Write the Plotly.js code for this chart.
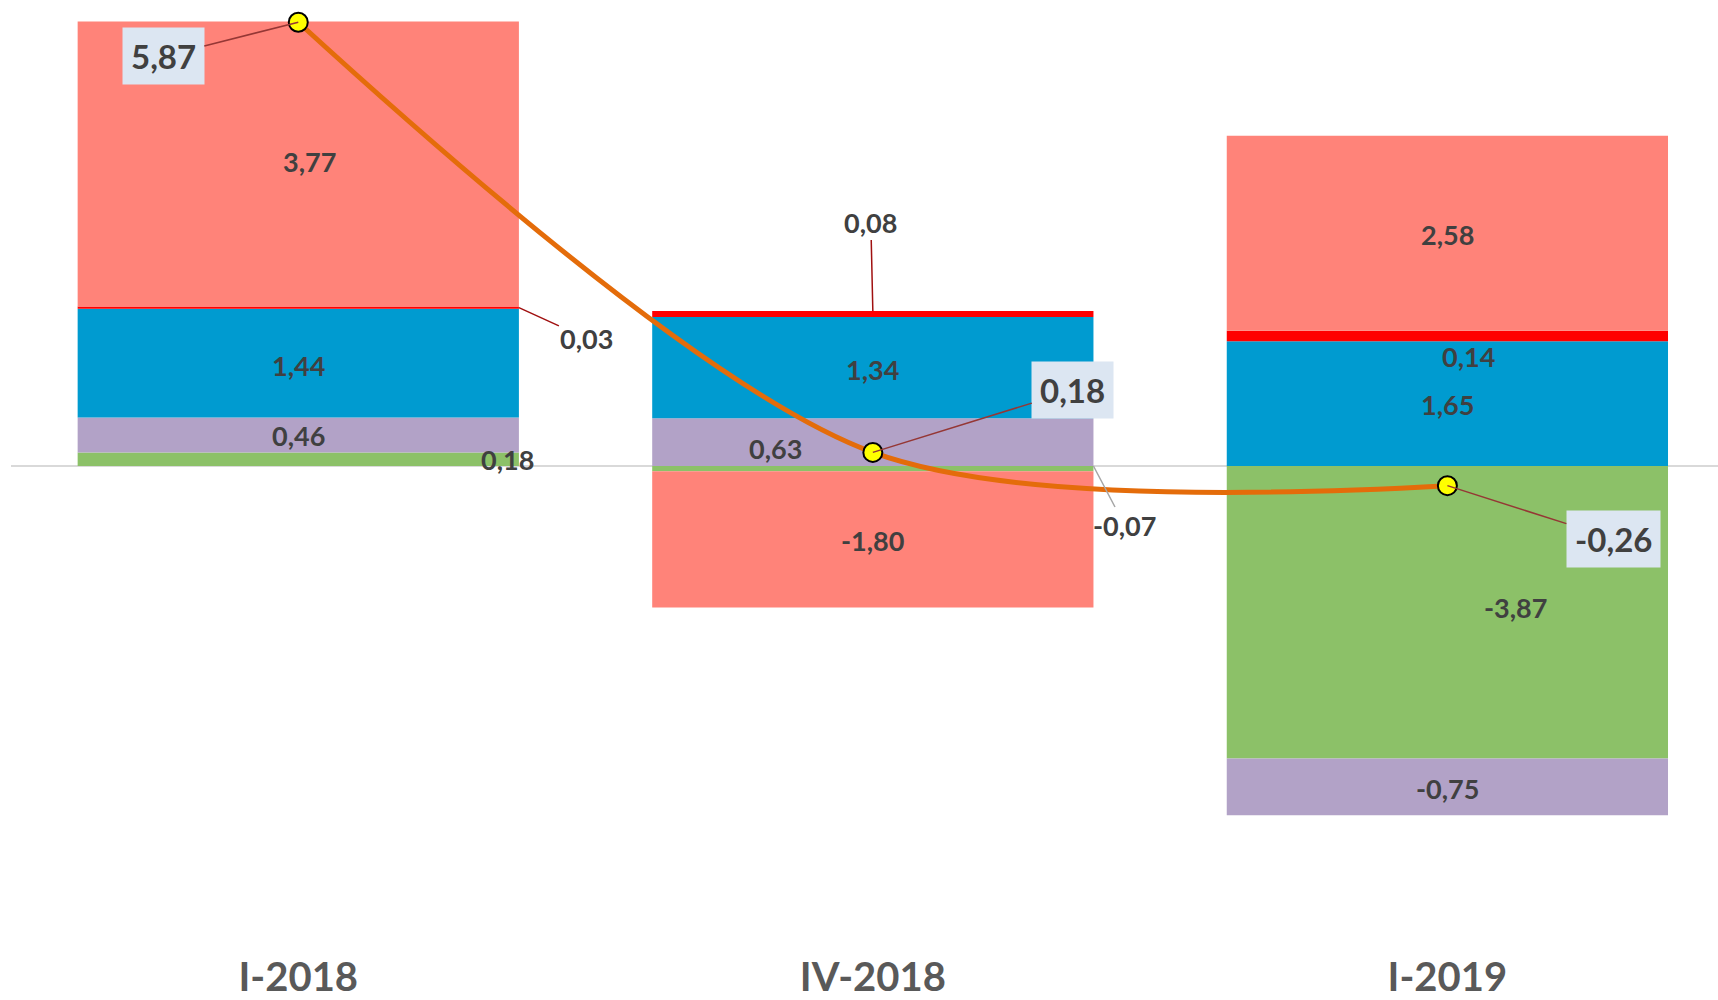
<!DOCTYPE html>
<html>
<head>
<meta charset="utf-8">
<script src="https://cdn.plot.ly/plotly-3.0.1.min.js"></script>
<style>html,body{margin:0;padding:0;background:#fff;}#chart{width:1718px;height:1000px;}</style>
</head>
<body>
<div id="chart"></div>
<script>
// ---- data ----
const categories = ['I-2018', 'IV-2018', 'I-2019'];
const greenVals  = [0.18, -0.07, -3.87];
const purpleVals = [0.46, 0.63, -0.75];
const blueVals   = [1.44, 1.34, 1.65];
const redVals    = [0.03, 0.08, 0.14];
const salmonVals = [3.77, -1.80, 2.58];
const totalVals  = [5.87, 0.18, -0.26];

// ---- styles ----
const seriesList = [
  {vals: greenVals,  color: '#8CC168'},
  {vals: purpleVals, color: '#B2A2C7'},
  {vals: blueVals,   color: '#009BD0'},
  {vals: redVals,    color: '#FF0000'},
  {vals: salmonVals, color: '#FF8379'}
];
const HALF = 0.384; // half bar width in category units
const labelFont = {family: 'Lato, "Open Sans", sans-serif', size: 27, color: '#404040', weight: 700};
const boxFont = {family: 'Lato, "Open Sans", sans-serif', size: 33, color: '#404040', weight: 700};
const fmt = v => v.toFixed(2).replace('.', ',');

// label placement config: [seriesIndex][categoryIndex]
const labelCfg = [
  [{m:'in', dx:209, dy:0}, {m:'lead', at:'right', ax:31, ay:59, c:'#A6A6A6'}, {m:'in', dx:68, dy:5}],
  [{m:'in', dx:0, dy:0}, {m:'in', dx:-97, dy:-6}, {m:'in', dx:0, dy:-2}],
  [{m:'in', dx:0, dy:-2}, {m:'in', dx:0, dy:-2}, {m:'in', dx:0, dy:-1}],
  [{m:'lead', at:'right', ax:68, ay:31, c:'#A01010'}, {m:'lead', at:'top', ax:-2, ay:-89, c:'#A01010'}, {m:'in', dx:21, dy:-21}],
  [{m:'in', dx:11, dy:2}, {m:'in', dx:0, dy:-1}, {m:'in', dx:0, dy:-1}]
];
const totalCfg = [{ax:-135, ay:34}, {ax:200, ay:-62}, {ax:166, ay:53}];

const traces = seriesList.map(s => ({
  type: 'bar', x: categories, y: s.vals,
  marker: {color: s.color, line: {width: 0}},
  hoverinfo: 'skip', showlegend: false
}));
traces.push({
  type: 'scatter', mode: 'lines+markers', x: categories, y: totalVals,
  line: {color: '#E46C0A', width: 5, shape: 'spline', smoothing: 0.85},
  marker: {color: '#FFFF00', size: 19, line: {color: '#000000', width: 2}},
  hoverinfo: 'skip', showlegend: false
});

const annotations = [];
for (let c = 0; c < categories.length; c++) {
  let pos = 0, neg = 0;
  seriesList.forEach((s, si) => {
    const v = s.vals[c];
    let lo, hi;
    if (v >= 0) { lo = pos; hi = pos + v; pos = hi; }
    else { hi = neg; lo = neg + v; neg = lo; }
    const cfg = labelCfg[si][c];
    if (cfg.m === 'in') {
      annotations.push({x: c, y: (lo + hi) / 2, xref: 'x', yref: 'y', text: fmt(v),
        showarrow: false, xshift: cfg.dx, yshift: cfg.dy, font: labelFont});
    } else {
      const px = cfg.at === 'right' ? c + HALF : c;
      const py = cfg.at === 'right' ? (v >= 0 ? (lo + hi) / 2 : hi) : hi;
      annotations.push({x: px, y: py, xref: 'x', yref: 'y', text: fmt(v),
        showarrow: true, arrowhead: 0, arrowwidth: 1.5, arrowcolor: cfg.c,
        ax: cfg.ax, ay: cfg.ay, axref: 'pixel', ayref: 'pixel', font: labelFont});
    }
  });
  const t = totalCfg[c];
  annotations.push({x: c, y: totalVals[c], xref: 'x', yref: 'y', text: fmt(totalVals[c]),
    showarrow: true, arrowhead: 0, arrowwidth: 1.5, arrowcolor: '#953735',
    ax: t.ax, ay: t.ay, axref: 'pixel', ayref: 'pixel',
    bgcolor: '#DCE6F2', borderpad: 8, font: boxFont});
}

const layout = {
  width: 1718, height: 1000,
  margin: {l: 11, r: 0, t: 0, b: 50},
  paper_bgcolor: '#ffffff', plot_bgcolor: '#ffffff',
  barmode: 'relative', bargap: 0.232,
  showlegend: false,
  xaxis: {type: 'category', range: [-0.5, 2.471], showgrid: false, zeroline: false,
    showline: false, ticks: '', tickfont: {family: 'Lato, "Open Sans", sans-serif', size: 40, color: '#595959', weight: 700}},
  yaxis: {range: [-6.402, 6.164], showgrid: false, showticklabels: false, ticks: '',
    zeroline: true, zerolinecolor: '#D9D9D9', zerolinewidth: 2, showline: false},
  annotations: annotations
};

Plotly.newPlot('chart', traces, layout, {displayModeBar: false, staticPlot: true});
</script>
</body>
</html>
